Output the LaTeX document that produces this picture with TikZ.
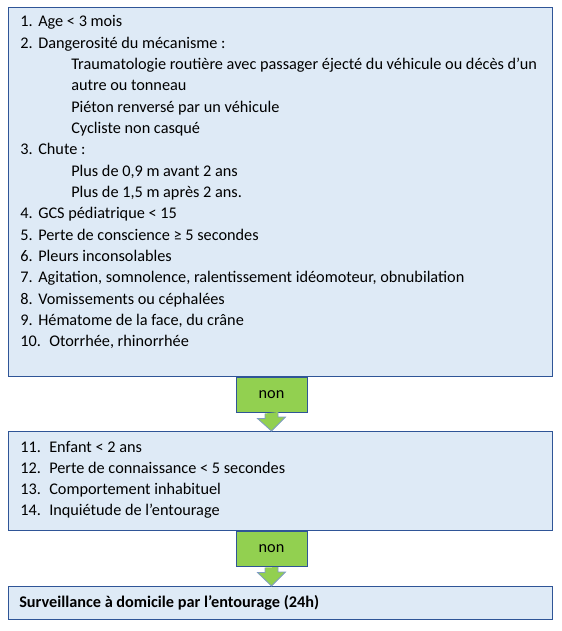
\documentclass[tikz,border=0pt]{standalone}
\usepackage{fontspec}
\setmainfont{Carlito}
\usepackage{tikz}
\definecolor{boxfill}{HTML}{DEEAF6}
\definecolor{boxline}{HTML}{2F5597}
\definecolor{nongreen}{HTML}{92D050}
\definecolor{arrowline}{HTML}{7F9CC4}

\begin{document}
\begin{tikzpicture}[x=0.75pt,y=-0.75pt,
		box/.style={draw=boxline, fill=boxfill, line width=0.75pt, anchor=north west, inner sep=0pt, minimum width={544*0.75pt}},
		non/.style={draw=boxline, fill=nongreen, line width=0.75pt, anchor=north, inner sep=0pt, minimum width={71*0.75pt}, minimum height={35*0.75pt}, font=\fontsize{12.2}{14}\selectfont},
		txt/.style={anchor=base west, inner sep=0pt, font=\fontsize{12.2}{14}\selectfont},
		flecheNon/.style={draw=arrowline, fill=nongreen, line width=0.6pt}]
				\useasboundingbox (0,0) rectangle (561,631);
				% les trois cadres
				\node[box, minimum height={369*0.75pt}] (crit1) at (8,7) {};
				\node[box, minimum height={99*0.75pt}] (crit2) at (8,431) {};
				\node[box, minimum height={33*0.75pt}] (surv) at (8,586) {};
				% fleches "non"
				\foreach \a/\b in {crit1/crit2, crit2/surv} {
					\node[non] (non-\a) at (271.5,0 |- \a.south) {non};
					\draw[flecheNon] ([xshift=-4.875pt,yshift=-0.4pt]non-\a.south) -- ++(0,5) -- ++(-7.5,0)
						-- (non-\a.south |- \b.north) -- ++(14,-14) -- ++(-7.5,0) -- ++(0,-5);
				}
				% premier cadre
				\foreach \k/\n/\x/\t in {0/1/38/{Age < 3 mois}, 1/2/38/{Dangerosité du mécanisme :}, 6/3/38/{Chute :},
					9/4/38/{GCS pédiatrique < 15}, 10/5/38/{Perte de conscience ≥ 5 secondes}, 11/6/38/{Pleurs inconsolables},
					12/7/38/{Agitation, somnolence, ralentissement idéomoteur, obnubilation}, 13/8/38/{Vomissements ou céphalées},
					14/9/38/{Hématome de la face, du crâne}, 15/10/49/{Otorrhée, rhinorrhée}} {
					\node[txt] (num\n) at (20,27+21.33*\k) {\n.};
					\node[txt] (item\n) at (\x,27+21.33*\k) {\t};
				}
				\foreach \k/\t [count=\i] in {2/{Traumatologie routière avec passager éjecté du véhicule ou décès d’un},
					3/{autre ou tonneau}, 4/{Piéton renversé par un véhicule}, 5/{Cycliste non casqué},
					7/{Plus de 0,9 m avant 2 ans}, 8/{Plus de 1,5 m après 2 ans.}} {
					\node[txt] (sous\i) at (71,27+21.33*\k) {\t};
				}
				% second cadre
				\foreach \j/\n/\t in {0/11/{Enfant < 2 ans}, 1/12/{Perte de connaissance < 5 secondes},
					2/13/{Comportement inhabituel}, 3/14/{Inquiétude de l’entourage}} {
					\node[txt] (num\n) at (20,452+21.33*\j) {\n.};
					\node[txt] (item\n) at (49,452+21.33*\j) {\t};
				}
				% conclusion
				\node[txt, font=\fontsize{12.2}{14}\selectfont\bfseries] (survTxt) at (19,607) {Surveillance à domicile par l’entourage (24h)};
			\end{tikzpicture}
\end{document}
